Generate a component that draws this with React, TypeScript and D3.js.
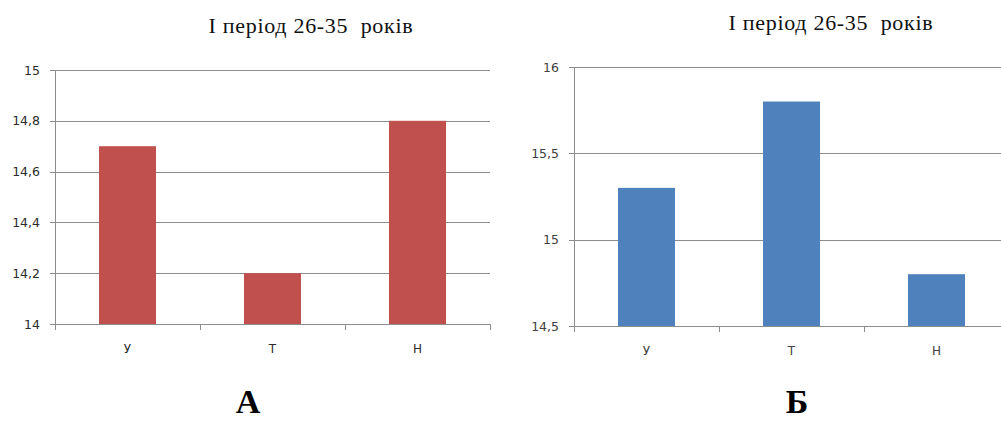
import React from "react";
import * as d3 from "d3";

const categories = ["У", "Т", "Н"];
const valuesA = [14.7, 14.2, 14.8];
const valuesB = [15.3, 15.8, 14.8];
const ticksA = [14, 14.2, 14.4, 14.6, 14.8, 15];
const ticksB = [14.5, 15, 15.5, 16];
const title = "І період 26-35  років";

const SERIF = "'Liberation Serif', 'Times New Roman', serif";
const SANS = "'DejaVu Sans', Verdana, sans-serif";

type PanelProps = {
  x0: number; x1: number; yTop: number; yBottom: number;
  domain: [number, number]; ticks: number[]; values: number[];
  color: string; labelColor: string; titleX: number; titleY: number;
  letter: string; letterX: number; catLabelY: number; labelRight: number;
};

function fmt(v: number) {
  return String(Math.round(v * 10) / 10).replace(".", ",");
}

function Panel(p: PanelProps) {
  const band = 145;
  const x = d3.scaleBand<string>().domain(categories).range([p.x0, p.x0 + band * 3]).paddingInner(0).paddingOuter(0);
  const y = d3.scaleLinear().domain(p.domain).range([p.yBottom, p.yTop]);
  const barW = 57;
  const grid = "#8c8c8c";
  return (
    <g>
      <text x={p.titleX} y={p.titleY} textAnchor="middle" style={{ fontFamily: SERIF, whiteSpace: "pre", letterSpacing: "0.7px" }} fontSize={22} fill="#111">{title}</text>
      {p.ticks.map((t) => (
        <g key={t}>
          <line x1={p.x0 - 5} x2={p.x1} y1={Math.round(y(t)) + 0.5} y2={Math.round(y(t)) + 0.5} stroke={grid} strokeWidth={1} />
          <text x={p.labelRight} y={y(t) + 4.5} textAnchor="end" style={{ fontFamily: SANS }} fontSize={12.5} fill={p.labelColor}>{fmt(t)}</text>
        </g>
      ))}
      {categories.map((c, i) => (
        <rect key={c} x={(x(c) as number) + band / 2 - barW / 2} width={barW} y={y(p.values[i])} height={y(p.domain[0]) - y(p.values[i])} fill={p.color} />
      ))}
      <line x1={p.x0 + 0.5} x2={p.x0 + 0.5} y1={p.yTop} y2={p.yBottom + 6} stroke={grid} />
      {[0, 1, 2, 3].map((i) => {
        const tx = p.x0 + band * i;
        return tx <= 1001 ? <line key={i} x1={tx + 0.5} x2={tx + 0.5} y1={p.yBottom} y2={p.yBottom + 6} stroke={grid} /> : null;
      })}
      {categories.map((c) => (
        <text key={c} x={(x(c) as number) + band / 2} y={p.catLabelY} textAnchor="middle" style={{ fontFamily: SANS }} fontSize={12} fill={p.labelColor}>{c}</text>
      ))}
      <text x={p.letterX} y={413} textAnchor="middle" style={{ fontFamily: SERIF }} fontWeight="bold" fontSize={34} fill="#000">{p.letter}</text>
    </g>
  );
}

export default function App() {
  return (
    <svg width={1001} height={421} style={{ position: "absolute", left: 0, top: 0, background: "#fff" }}>
      <rect width={1001} height={421} fill="#fff" />
      <Panel x0={55} x1={490} yTop={70} yBottom={324} domain={[14, 15]} ticks={ticksA} values={valuesA}
        color="#C0504D" labelColor="#2b2b2b" titleX={311} titleY={33} letter="А" letterX={248} catLabelY={353} labelRight={40} />
      <Panel x0={574} x1={1001} yTop={67} yBottom={326} domain={[14.5, 16]} ticks={ticksB} values={valuesB}
        color="#4F81BD" labelColor="#404040" titleX={831} titleY={30} letter="Б" letterX={797} catLabelY={355} labelRight={559} />
    </svg>
  );
}
